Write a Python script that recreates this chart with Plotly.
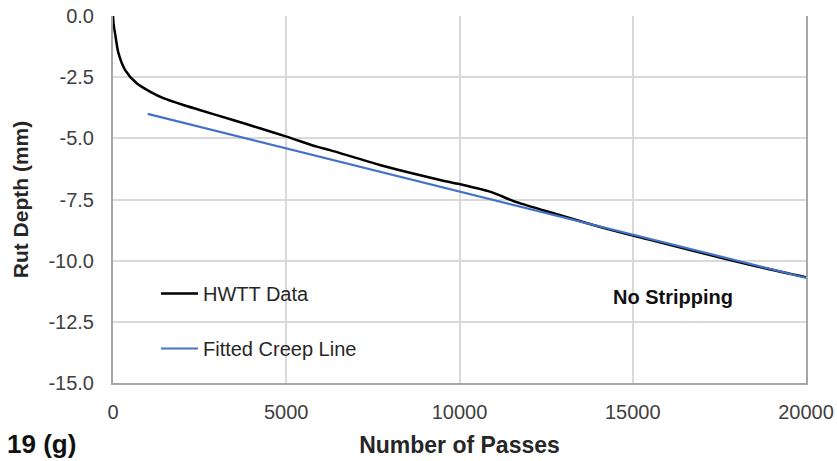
import plotly.graph_objects as go

passes = [0, 20, 58, 154, 346, 683, 1068, 1453, 2030, 2500, 3460, 4240, 5010,
          5880, 6260, 7700, 9440, 10000, 10880, 11650, 12800, 14250, 15500,
          17000, 18500, 20000]
rut = [0, -0.35, -0.7, -1.5, -2.2, -2.75, -3.09, -3.36, -3.64, -3.84, -4.25,
       -4.59, -4.93, -5.34, -5.48, -6.09, -6.70, -6.87, -7.18, -7.61, -8.10,
       -8.70, -9.15, -9.69, -10.21, -10.68]

# Fitted creep line
fit_x = [1000, 20000]
fit_y = [-4.0, -10.7]

x_ticks = [0, 5000, 10000, 15000, 20000]
x_labels = ["0", "5000", "10000", "15000", "20000"]
y_ticks = [0, -2.5, -5, -7.5, -10, -12.5, -15]
y_labels = ["0.0", "-2.5", "-5.0", "-7.5", "-10.0", "-12.5", "-15.0"]

FONT = "Liberation Sans"
TXT = "#262626"

fig = go.Figure()
fig.add_trace(go.Scatter(x=passes, y=rut, mode="lines", name="HWTT Data",
                         legendgroup="a",
                         line=dict(color="black", width=2.5, shape="spline", smoothing=0.7)))
fig.add_trace(go.Scatter(x=fit_x, y=fit_y, mode="lines", name="Fitted Creep Line",
                         legendgroup="b", line=dict(color="#4472C4", width=2.2)))

fig.update_layout(
    width=837, height=461,
    margin=dict(l=113, r=31, t=16, b=78, autoexpand=False),
    paper_bgcolor="white", plot_bgcolor="white",
    font=dict(family=FONT, size=20, color=TXT),
    showlegend=True,
    legend=dict(x=0.062, y=0.297, xanchor="left", yanchor="top",
                bgcolor="rgba(0,0,0,0)", font=dict(size=20, color=TXT),
                traceorder="grouped", tracegroupgap=26, itemwidth=37),
    xaxis=dict(range=[0, 20000], tickvals=x_ticks, ticktext=x_labels,
               showgrid=True, gridcolor="#d9d9d9", gridwidth=1.5,
               showline=True, linecolor="#a6a6a6", linewidth=2,
               zeroline=False, ticks="", ticklabelstandoff=10, automargin=False,
               tickfont=dict(size=20, color="#404040"),
               title=dict(text="<b>Number of Passes</b>", font=dict(size=23, color=TXT), standoff=15)),
    yaxis=dict(range=[-15, 0], tickvals=y_ticks, ticktext=y_labels,
               showgrid=True, gridcolor="#d9d9d9", gridwidth=1.5,
               showline=True, linecolor="#a6a6a6", linewidth=2, mirror=True,
               zeroline=False, ticks="", ticklabelstandoff=13, automargin=False,
               tickfont=dict(size=20, color="#404040"),
               title=dict(text="<b>Rut Depth (mm)</b>", font=dict(size=21, color=TXT), standoff=14)),
    annotations=[
        dict(text="<b>No Stripping</b>", x=(673 - 113) / 693, y=(383 - 297) / 367,
             xref="paper", yref="paper", xanchor="center", yanchor="middle",
             showarrow=False, font=dict(size=20, color="#111111")),
        dict(text="<b>19 (g)</b>", x=-108 / 693, y=(383 - 444) / 367,
             xref="paper", yref="paper", xanchor="left", yanchor="middle",
             showarrow=False, font=dict(size=26, color="#111111")),
    ],
)

fig.write_html("out.html")
